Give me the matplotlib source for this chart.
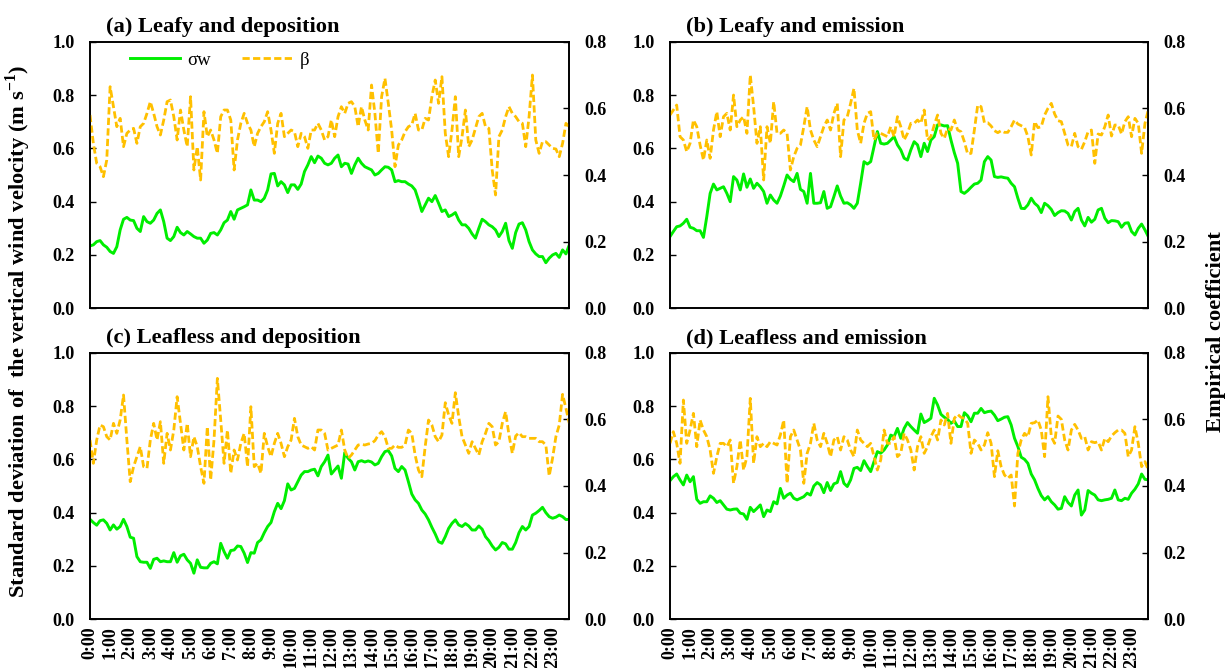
import matplotlib.pyplot as plt
import numpy as np

plt.rcParams['font.family'] = 'Liberation Serif'
plt.rcParams['mathtext.fontset'] = 'custom'
plt.rcParams['mathtext.rm'] = 'Liberation Serif:bold'
plt.rcParams['mathtext.bf'] = 'Liberation Serif:bold'

# 10-min averages over the day (144 steps), hourly labels
hour_labels = ['%d:00' % h for h in range(24)]

# (a) Leafy and deposition
sw_a = [.234, .238, .25, .254, .238, .229, .213, .206, .231, .294,
        .334, .341, .331, .329, .30, .288, .344, .325, .319, .331,
        .356, .369, .325, .263, .254, .269, .304, .284, .275, .288,
        .279, .269, .263, .263, .244, .256, .281, .284, .275, .294,
        .321, .331, .363, .334, .369, .375, .381, .388, .444, .406,
        .406, .40, .413, .444, .504, .506, .459, .475, .463, .434,
        .463, .463, .446, .466, .513, .538, .569, .546, .571, .563,
        .544, .538, .544, .563, .575, .531, .544, .541, .506, .538,
        .563, .544, .531, .525, .519, .50, .506, .519, .531, .529,
        .519, .475, .479, .475, .475, .466, .459, .444, .406, .363,
        .388, .413, .40, .423, .394, .363, .369, .344, .35, .359,
        .331, .313, .313, .30, .279, .263, .30, .334, .325, .313,
        .306, .294, .269, .288, .319, .254, .225, .284, .316, .321,
        .294, .25, .219, .204, .194, .194, .171, .188, .20, .206,
        .191, .219, .204, .238]
beta_a = [.58, .495, .435, .425, .395, .445, .665, .605, .545, .57,
          .485, .525, .535, .54, .495, .545, .555, .585, .62, .585,
          .545, .52, .565, .62, .625, .575, .505, .595, .535, .485,
          .635, .415, .485, .385, .59, .515, .535, .505, .465, .575,
          .595, .595, .565, .415, .505, .555, .585, .555, .535, .485,
          .525, .545, .56, .59, .535, .465, .555, .585, .515, .525,
          .535, .53, .485, .525, .515, .48, .535, .535, .555, .535,
          .505, .515, .565, .515, .575, .605, .585, .615, .62, .605,
          .545, .605, .565, .535, .67, .585, .465, .635, .69, .615,
          .535, .425, .49, .505, .53, .545, .55, .585, .535, .535,
          .57, .565, .635, .685, .615, .695, .525, .455, .535, .635,
          .455, .515, .595, .485, .505, .54, .575, .585, .545, .54,
          .415, .34, .515, .535, .575, .605, .585, .575, .56, .555,
          .485, .575, .70, .505, .465, .50, .50, .49, .48, .478,
          .455, .495, .555, .545]

# (b) Leafy and emission
sw_b = [.269, .288, .306, .309, .319, .334, .304, .30, .291, .291,
        .266, .344, .431, .466, .444, .45, .456, .431, .40, .494,
        .481, .444, .504, .454, .485, .45, .469, .456, .438, .394,
        .425, .406, .394, .421, .459, .50, .484, .475, .506, .446,
        .438, .394, .506, .394, .394, .396, .438, .375, .381, .419,
        .459, .421, .394, .396, .388, .375, .394, .469, .55, .541,
        .55, .606, .663, .619, .616, .619, .631, .644, .613, .594,
        .563, .556, .594, .625, .613, .569, .619, .588, .631, .644,
        .688, .688, .684, .685, .631, .584, .544, .438, .431, .441,
        .454, .466, .469, .481, .55, .569, .556, .494, .491, .493,
        .49, .488, .469, .456, .413, .375, .374, .388, .413, .394,
        .383, .359, .394, .385, .371, .348, .359, .366, .365, .356,
        .331, .363, .375, .331, .309, .341, .323, .334, .369, .375,
        .338, .321, .329, .328, .325, .304, .319, .321, .288, .275,
        .30, .316, .294, .269]
beta_b = [.58, .595, .61, .515, .505, .47, .495, .565, .545, .49,
          .445, .505, .45, .535, .59, .515, .575, .585, .535, .64,
          .545, .565, .575, .525, .70, .605, .495, .545, .385, .545,
          .495, .62, .525, .525, .535, .525, .415, .455, .48, .49,
          .545, .605, .535, .505, .485, .515, .545, .565, .535, .585,
          .615, .455, .565, .575, .615, .66, .535, .495, .555, .585,
          .59, .505, .525, .525, .52, .515, .545, .515, .575, .545,
          .505, .525, .555, .555, .565, .555, .595, .505, .515, .55,
          .58, .525, .51, .54, .535, .565, .535, .53, .50, .463,
          .465, .535, .61, .605, .557, .557, .547, .533, .527, .533,
          .528, .528, .545, .565, .553, .548, .543, .515, .46, .56,
          .542, .545, .58, .60, .615, .583, .563, .56, .525, .49,
          .485, .525, .485, .477, .50, .53, .535, .435, .523, .52,
          .545, .58, .517, .55, .55, .523, .56, .575, .515, .57,
          .555, .465, .555, .595]

# (c) Leafless and deposition
sw_c = [.375, .363, .353, .37, .373, .36, .335, .354, .338, .348,
        .375, .348, .308, .304, .235, .216, .214, .214, .191, .225,
        .229, .216, .219, .216, .216, .25, .214, .238, .244, .223,
        .21, .173, .223, .195, .193, .193, .21, .216, .208, .285,
        .254, .229, .258, .26, .275, .273, .248, .213, .25, .248,
        .288, .298, .325, .348, .363, .404, .435, .415, .445, .508,
        .485, .491, .516, .541, .554, .554, .56, .563, .538, .573,
        .591, .616, .545, .56, .575, .529, .625, .604, .591, .56,
        .591, .595, .59, .594, .59, .579, .585, .61, .629, .633,
        .613, .566, .554, .573, .56, .516, .47, .448, .435, .41,
        .395, .373, .345, .32, .291, .285, .31, .341, .36, .373,
        .354, .348, .359, .35, .335, .335, .35, .338, .31, .295,
        .275, .26, .27, .288, .283, .263, .263, .288, .325, .348,
        .335, .348, .391, .398, .408, .42, .40, .385, .379, .383,
        .391, .385, .374, .375]
beta_c = [.538, .468, .538, .583, .578, .548, .538, .588, .558, .598,
          .673, .538, .413, .458, .488, .518, .458, .453, .538, .588,
          .538, .593, .468, .558, .508, .568, .668, .588, .508, .588,
          .488, .548, .518, .458, .408, .578, .418, .538, .723, .598,
          .468, .568, .438, .508, .478, .528, .558, .458, .638, .458,
          .468, .438, .558, .518, .488, .528, .558, .528, .488, .518,
          .538, .603, .548, .523, .518, .513, .518, .508, .568, .568,
          .558, .508, .513, .518, .523, .568, .508, .483, .493, .508,
          .523, .525, .523, .526, .528, .536, .553, .563, .548, .513,
          .513, .523, .516, .516, .523, .568, .558, .493, .448, .428,
          .518, .598, .583, .548, .533, .553, .65, .613, .588, .68,
          .608, .548, .523, .498, .533, .513, .493, .533, .558, .588,
          .578, .523, .533, .588, .623, .553, .498, .55, .56, .548,
          .548, .543, .543, .543, .533, .533, .523, .43, .483, .548,
          .583, .675, .633, .588]

# (d) Leafless and emission
sw_d = [.52, .535, .545, .523, .504, .541, .516, .535, .45, .435,
        .441, .441, .463, .454, .438, .445, .429, .413, .41, .413,
        .414, .398, .395, .375, .42, .404, .416, .429, .385, .41,
        .404, .441, .433, .491, .454, .466, .473, .454, .448, .454,
        .46, .473, .466, .50, .513, .504, .475, .513, .483, .508,
        .513, .554, .51, .498, .523, .566, .57, .558, .595, .573,
        .554, .591, .629, .623, .635, .654, .691, .685, .716, .679,
        .716, .738, .723, .71, .698, .77, .738, .745, .754, .829,
        .804, .769, .758, .75, .735, .744, .723, .723, .775, .763,
        .741, .773, .773, .791, .775, .779, .781, .766, .745, .751,
        .758, .76, .729, .679, .648, .608, .60, .585, .545, .523,
        .491, .464, .448, .46, .441, .429, .413, .416, .46, .438,
        .425, .466, .485, .391, .41, .483, .473, .466, .448, .445,
        .448, .45, .454, .485, .448, .445, .454, .45, .473, .488,
        .508, .545, .525, .523]
beta_d = [.528, .563, .528, .468, .658, .528, .568, .618, .518, .598,
          .568, .548, .508, .438, .488, .528, .528, .518, .538, .408,
          .458, .538, .448, .488, .663, .468, .548, .518, .528, .518,
          .533, .528, .523, .553, .598, .408, .548, .568, .538, .508,
          .408, .498, .528, .588, .538, .518, .558, .528, .488, .538,
          .548, .508, .548, .538, .508, .488, .568, .538, .528, .518,
          .528, .488, .448, .478, .568, .528, .528, .548, .488, .498,
          .558, .538, .508, .448, .518, .548, .498, .518, .548, .568,
          .538, .598, .583, .618, .528, .603, .615, .606, .603, .588,
          .498, .538, .528, .508, .523, .56, .528, .428, .506, .458,
          .433, .423, .433, .34, .498, .538, .558, .548, .588, .59,
          .598, .568, .488, .668, .548, .528, .61, .60, .538, .508,
          .568, .585, .568, .543, .548, .508, .533, .53, .533, .508,
          .543, .533, .55, .56, .568, .568, .558, .488, .508, .578,
          .528, .458, .473, .448]

titles = ['(a) Leafy and deposition', '(b) Leafy and emission',
          '(c) Leafless and deposition', '(d) Leafless and emission']
sw_all = [sw_a, sw_b, sw_c, sw_d]
beta_all = [beta_a, beta_b, beta_c, beta_d]

W, H = 1226, 668
# panel boxes in pixels: left, top, right, bottom
boxes = [(90, 41.7, 569.3, 308.3), (670, 41.7, 1148.3, 308.3),
         (90, 352.7, 569.3, 619.3), (670, 352.7, 1148.3, 619.3)]

green = '#00EE00'
gold = '#FFC000'
tick_font = {'family': 'Liberation Serif', 'weight': 'bold', 'size': 13}

fig = plt.figure(figsize=(W / 100, H / 100), dpi=100)
x = np.arange(144)

for i in range(4):
    l, t, r, b = boxes[i]
    ax = fig.add_axes([l / W, 1 - b / H, (r - l) / W, (b - t) / H])
    ax2 = ax.twinx()

    l1, = ax.plot(x, sw_all[i], color=green, lw=2.1, solid_joinstyle='round')
    l2, = ax2.plot(x, beta_all[i], color=gold, lw=2.0, ls=(0, (2.6, 1.2)))

    ax.set_xlim(0, 143)
    ax.set_ylim(0, 1.0)
    ax2.set_ylim(0, 0.8)
    ax.set_yticks(np.arange(0, 1.01, 0.2))
    ax2.set_yticks(np.arange(0, 0.81, 0.2))
    ax.set_yticklabels(['%.1f' % v for v in np.arange(0, 1.01, 0.2)], fontdict=tick_font)
    ax2.set_yticklabels(['%.1f' % v for v in np.arange(0, 0.81, 0.2)], fontdict=tick_font)
    ax.tick_params(axis='y', direction='in', length=4.5, width=1, pad=11)
    ax2.tick_params(axis='y', direction='in', length=4.5, width=1, pad=11)

    ax.set_xticks(np.arange(0, 144, 6))
    if i >= 2:
        ax.set_xticklabels(hour_labels, rotation=90, fontdict=tick_font)
    else:
        ax.set_xticklabels([])
    ax.tick_params(axis='x', length=0, pad=5)

    for sp in ax.spines.values():
        sp.set_linewidth(1.2)
    for sp in ax2.spines.values():
        sp.set_linewidth(1.2)

    ax.text(0.033, 1.035, titles[i], transform=ax.transAxes, ha='left',
            va='baseline', fontsize=16.2, fontweight='bold')

    if i == 0:
        ax2.legend([l1, l2], ['σw', 'β'], loc='center left',
                   bbox_to_anchor=(0.083, 0.931), ncol=2, frameon=False,
                   prop={'family': 'Liberation Serif', 'size': 13.5},
                   handlelength=2.7, handletextpad=0.35, columnspacing=1.7,
                   borderpad=0, borderaxespad=0)

fig.text(0.0147, 0.504, r'Standard deviation of  the vertical wind velocity (m s$^{\mathbf{-1}}$)',
         rotation=90, ha='center', va='center', fontsize=16.2, fontweight='bold')
fig.text(0.9915, 0.504, 'Empirical coefficient', rotation=90, ha='center',
         va='center', fontsize=16.2, fontweight='bold')

fig.savefig('out.png', dpi=100)
